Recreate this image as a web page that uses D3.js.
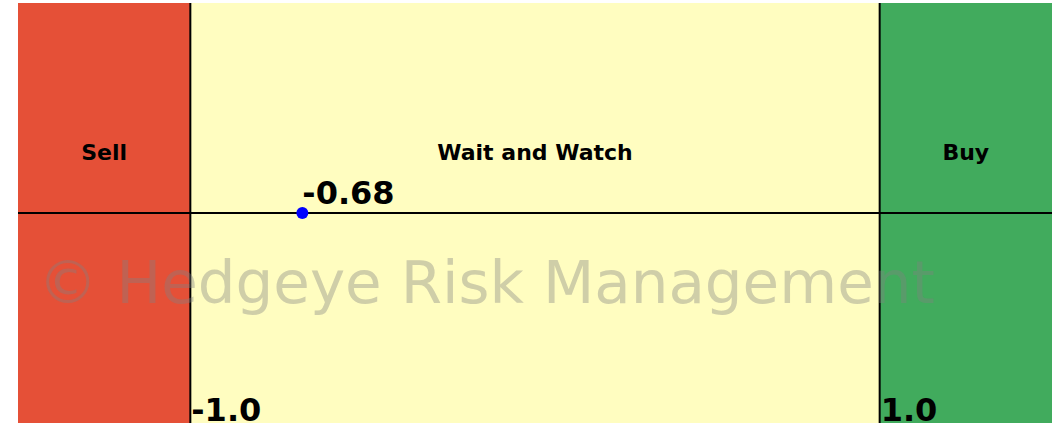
<!DOCTYPE html>
<html>
<head>
<meta charset="utf-8">
<script src="https://cdn.jsdelivr.net/npm/d3@7"></script>
<style>
  body { margin: 0; background: #fff; }
  text { font-family: "DejaVu Sans", sans-serif; }
</style>
</head>
<body>
<div id="chart"></div>
<script>
// zones along the signal axis
var zoneNames = ["Sell", "Wait and Watch", "Buy"];
var zoneStart = [-1.5, -1.0, 1.0];
var zoneEnd = [-1.0, 1.0, 1.5];
var zoneColors = ["#e55037", "#fffdc0", "#41ab5d"];

// thresholds and the current reading
var thresholds = [-1.0, 1.0];
var thresholdLabels = ["-1.0", "1.0"];
var currentValue = [-0.675];
var currentLabel = ["-0.68"];

var width = 1061, height = 427;
var margin = {top: 3, right: 9, bottom: 4, left: 18};

var svg = d3.select("#chart")
    .append("svg")
    .attr("width", width)
    .attr("height", height);

var x = d3.scaleLinear()
    .domain([-1.5, 1.5])
    .range([margin.left, width - margin.right]);

var y = d3.scaleLinear()
    .domain([-1, 1])
    .range([height - margin.bottom, margin.top]);

// background zones
svg.selectAll("rect.zone")
    .data(zoneNames)
    .enter()
    .append("rect")
    .attr("class", "zone")
    .attr("x", function(d, i) { return x(zoneStart[i]); })
    .attr("width", function(d, i) { return x(zoneEnd[i]) - x(zoneStart[i]); })
    .attr("y", y(1))
    .attr("height", y(-1) - y(1))
    .style("fill", function(d, i) { return zoneColors[i]; });

// zone names
svg.selectAll("text.zone")
    .data(zoneNames)
    .enter()
    .append("text")
    .attr("class", "zone")
    .attr("x", function(d, i) { return x((zoneStart[i] + zoneEnd[i]) / 2); })
    .attr("y", y(0.29))
    .attr("dy", "0.35em")
    .attr("text-anchor", "middle")
    .style("font-size", "22px")
    .style("font-weight", "bold")
    .text(function(d) { return d; });

// threshold lines
svg.selectAll("line.thr")
    .data(thresholds)
    .enter()
    .append("line")
    .attr("class", "thr")
    .attr("x1", function(d) { return x(d); })
    .attr("x2", function(d) { return x(d); })
    .attr("y1", y(1))
    .attr("y2", y(-1))
    .style("stroke", "#000")
    .style("stroke-width", 2);

// horizontal axis line
svg.append("line")
    .attr("x1", x(-1.5))
    .attr("x2", x(1.5))
    .attr("y1", y(0))
    .attr("y2", y(0))
    .style("stroke", "#000")
    .style("stroke-width", 2);

// watermark
svg.append("text")
    .attr("x", 38)
    .attr("y", 303)
    .style("font-size", "59.5px")
    .style("fill", "#808080")
    .style("fill-opacity", 0.38)
    .text("\u00a9 Hedgeye Risk Management");

// threshold labels
svg.selectAll("text.thr")
    .data(thresholds)
    .enter()
    .append("text")
    .attr("class", "thr")
    .attr("x", function(d) { return x(d) + 1; })
    .attr("y", y(-1) - 2)
    .style("font-size", "32px")
    .style("font-weight", "bold")
    .text(function(d, i) { return thresholdLabels[i]; });

// current reading
svg.selectAll("circle.cur")
    .data(currentValue)
    .enter()
    .append("circle")
    .attr("class", "cur")
    .attr("cx", function(d) { return x(d); })
    .attr("cy", y(0))
    .attr("r", 6)
    .style("fill", "#0000ff");

svg.selectAll("text.cur")
    .data(currentValue)
    .enter()
    .append("text")
    .attr("class", "cur")
    .attr("x", function(d) { return x(d); })
    .attr("y", y(0) - 9)
    .style("font-size", "32px")
    .style("font-weight", "bold")
    .text(function(d, i) { return currentLabel[i]; });
</script>
</body>
</html>
